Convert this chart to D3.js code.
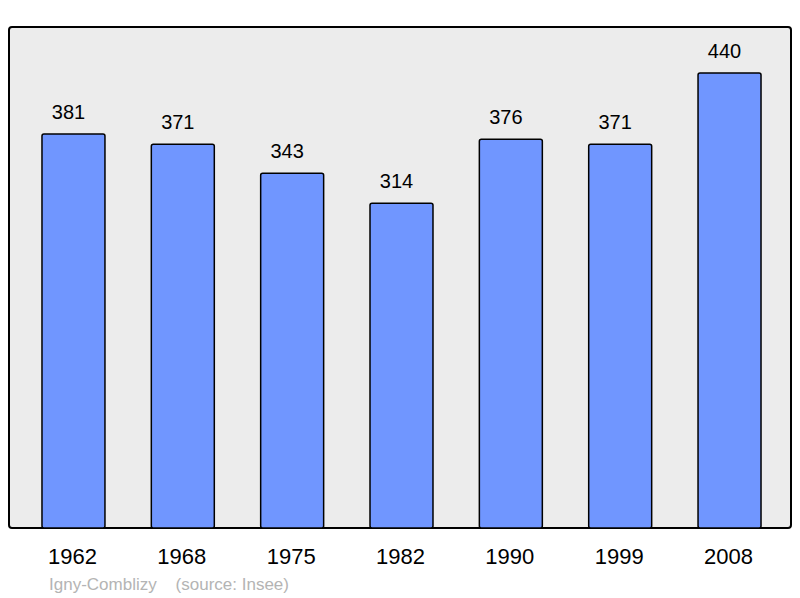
<!DOCTYPE html>
<html><head><meta charset="utf-8">
<script src="https://cdn.jsdelivr.net/npm/d3@7"></script>
<style>body{margin:0;background:#fff}</style>
</head><body>
<svg id="c" width="800" height="598"></svg>
<script>
const years = ["1962","1968","1975","1982","1990","1999","2008"];
const population = [381,371,343,314,376,371,440];
const sourceText = "Igny-Comblizy    (source: Insee)";

const svg = d3.select("#c");
const font = "'Liberation Sans', Arial, sans-serif";

svg.append("rect").attr("x",9).attr("y",27).attr("width",782).attr("height",501)
  .attr("rx",3).attr("fill","#ececec").attr("stroke","#000").attr("stroke-width",2);

const x = d3.scaleBand().domain(years).range([18.8,784.2]).paddingInner(0.424).paddingOuter(0.212);
const y = d3.scaleLinear().domain([0,440]).range([528,73]);

svg.selectAll("rect.bar").data(population).enter().append("rect")
  .attr("class","bar")
  .attr("x",(d,i)=>x(years[i]))
  .attr("y",d=>y(d))
  .attr("width",x.bandwidth())
  .attr("height",d=>528-y(d))
  .attr("rx",2)
  .attr("fill","#7096ff").attr("stroke","#000").attr("stroke-width",1.5);

svg.selectAll("text.val").data(population).enter().append("text")
  .attr("x",(d,i)=>x(years[i])+x.bandwidth()/2-5)
  .attr("y",d=>y(d)-15)
  .attr("text-anchor","middle")
  .attr("font-family",font).attr("font-size",20).attr("fill","#000")
  .text(d=>d);

const xAxis = d3.axisBottom(x).tickSize(0).tickPadding(0);
const g = svg.append("g").attr("transform","translate(0,528)").call(xAxis);
g.select(".domain").remove();
g.selectAll("text").attr("font-family",font).attr("font-size",22).attr("fill","#000")
  .attr("dy",null).attr("y",36).attr("x",-1);

svg.append("text").attr("x",49).attr("y",590)
  .attr("font-family",font).attr("font-size",17).attr("fill","#b4b4b4")
  .attr("xml:space","preserve").style("white-space","pre")
  .text(sourceText);
</script>
</body></html>
